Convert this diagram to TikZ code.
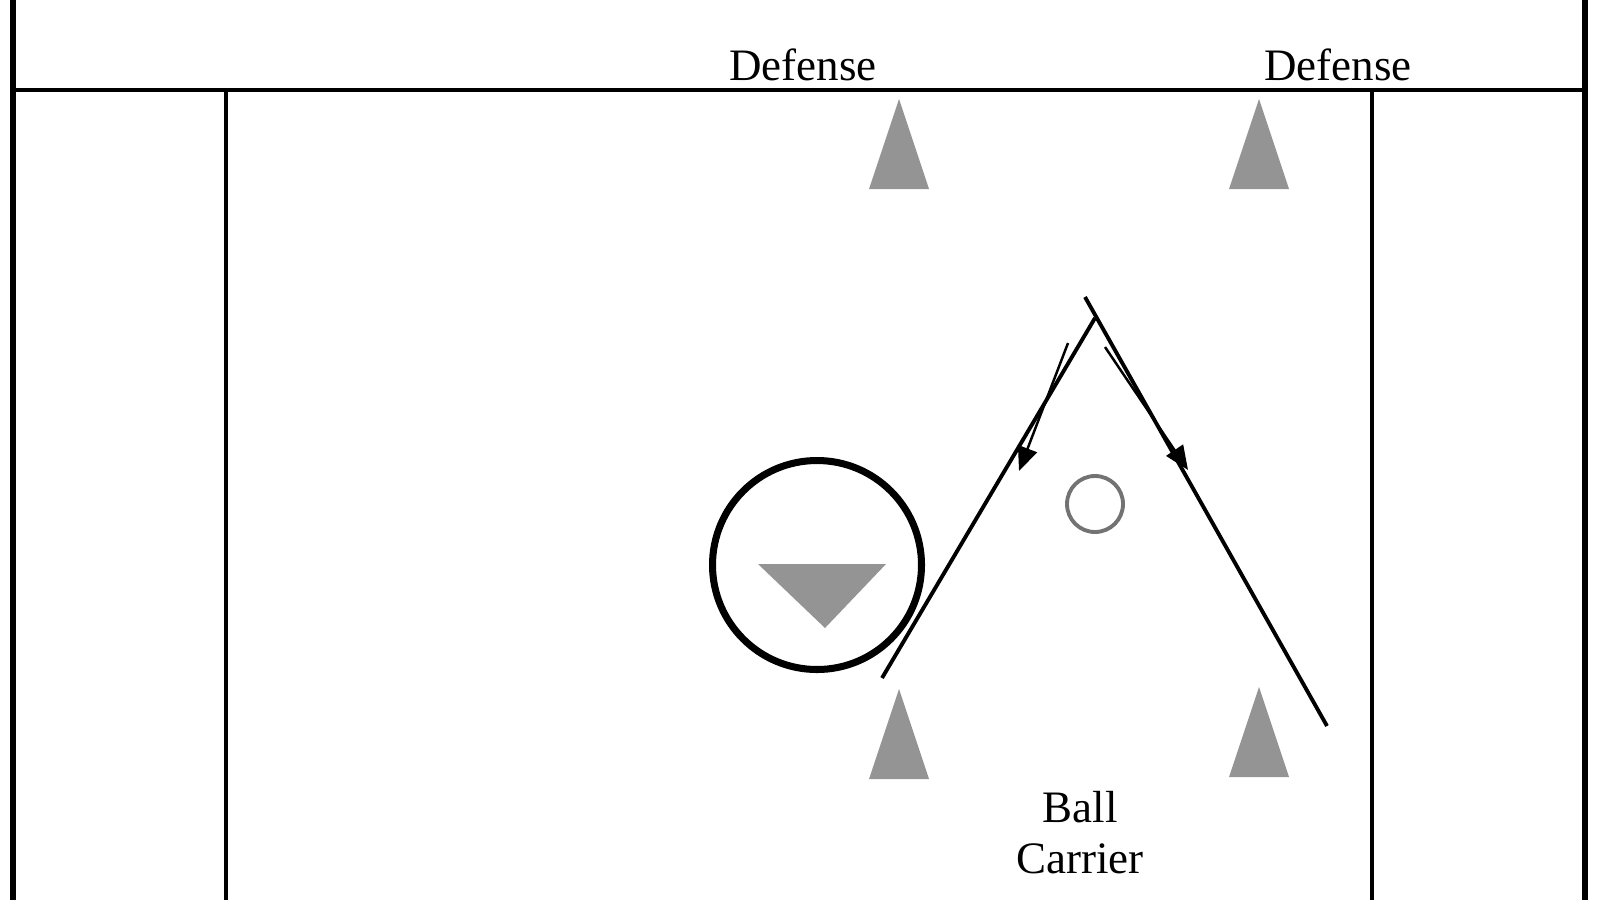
\documentclass[tikz,border=0pt]{standalone}
\usepackage{fontspec}
\setmainfont{Liberation Serif}
\usetikzlibrary{arrows.meta, positioning, calc}

\begin{document}
\begin{tikzpicture}[
    font=\fontsize{12.8}{14.5}\selectfont,
    frame/.style={line width=1.5pt},
    lane/.style={line width=1.1pt},
    cone/.style={fill=black!42, draw=none},
    route/.style={line width=1.1pt},
    run/.style={line width=0.7pt, -{Triangle[length=2.4mm, width=2mm]}},
    tag/.style={align=center, inner sep=0pt}
  ]

  \useasboundingbox (0,0) rectangle (16,-9);

  % --- Campo ---
  \draw[frame] (0.13,0) -- (0.13,-9);
  \draw[frame] (15.85,0) -- (15.85,-9);
  \draw[lane] (0.13,-0.90) -- (15.85,-0.90);
  \draw[lane] (2.26,-0.90) -- (2.26,-9);
  \draw[lane] (13.72,-0.90) -- (13.72,-9);

  % --- Conos ---
  \foreach \x/\y in {8.99/-0.99, 12.59/-0.99, 8.99/-6.89, 12.59/-6.87}
    \fill[cone] (\x,\y) -- ++(-0.30,-0.90) -- ++(0.60,0) -- cycle;

  % --- Defensor y balon ---
  \draw[line width=2pt] (8.17,-5.65) circle (1.045);
  \fill[cone] (7.58,-5.64) -- (8.86,-5.64) -- (8.25,-6.28) -- cycle;
  \draw[black!55, line width=1.1pt] (10.95,-5.04) circle (0.28);

  % --- Recorrido ---
  \coordinate (start) at (8.82,-6.78);
  \coordinate (peak)  at (10.95,-3.18);
  \coordinate (tick)  at (10.85,-2.97);
  \coordinate (stop)  at (13.27,-7.26);
  \draw[route] (start) -- (peak);
  \draw[route] (tick) -- (stop);
  \draw[run] (10.68,-3.43) -- (10.19,-4.71);
  \draw[run] (11.05,-3.47) -- (11.88,-4.70);

  % --- Textos ---
  \node[tag, anchor=base] (defA) at (8.03,-0.80) {Defense};
  \node[tag, anchor=base] (defB) at (13.38,-0.80) {Defense};
  \node[tag, anchor=north] (carrier) at (10.80,-7.91) {Ball\\Carrier};

\end{tikzpicture}
\end{document}
